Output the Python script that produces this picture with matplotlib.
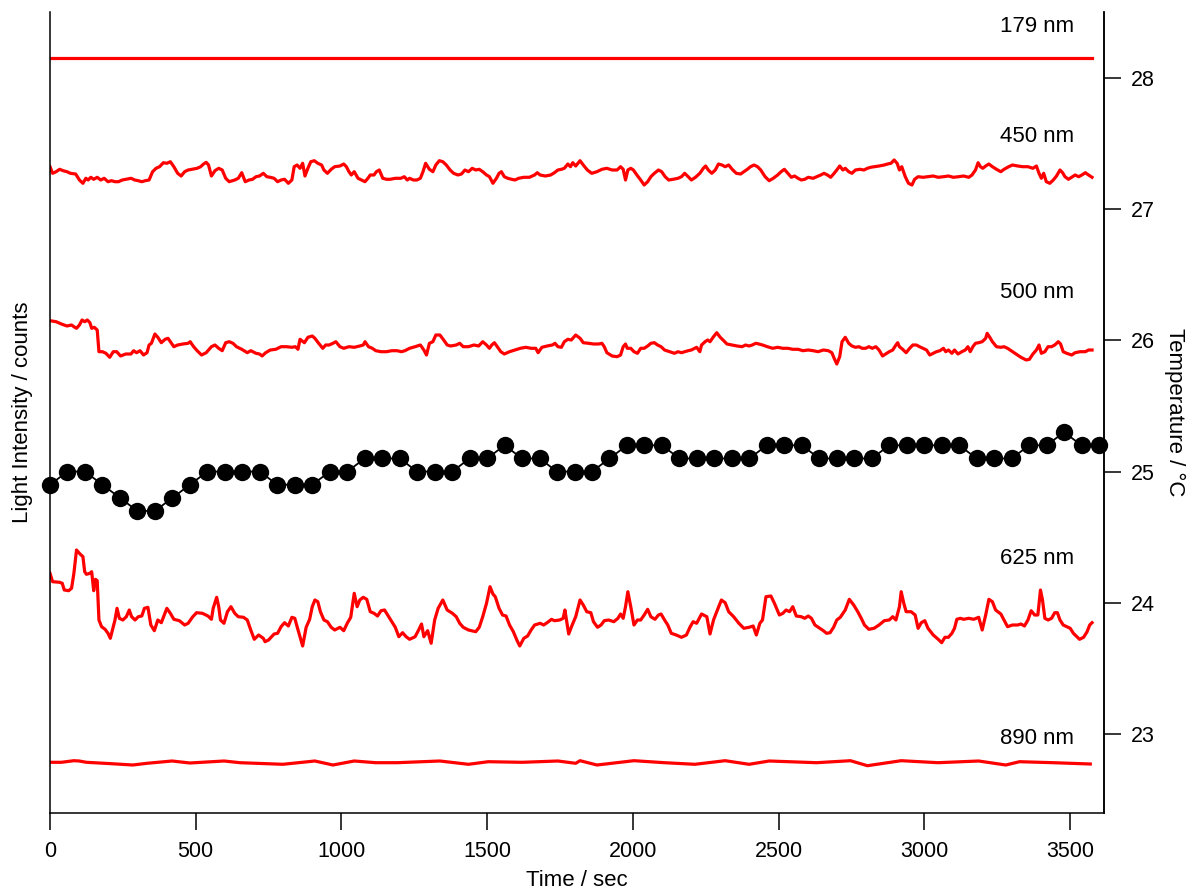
import numpy as np
import matplotlib
matplotlib.use("Agg")
import matplotlib.pyplot as plt

plt.rcParams["font.family"] = ["Liberation Sans", "DejaVu Sans"]

# ---- temperature, sampled once a minute ----
temp_time = np.arange(0, 3601, 60)
temperature = [24.9, 25.0, 25.0, 24.9, 24.8, 24.7, 24.7, 24.8, 24.9, 25.0,
               25.0, 25.0, 25.0, 24.9, 24.9, 24.9, 25.0, 25.0, 25.1, 25.1,
               25.1, 25.0, 25.0, 25.0, 25.1, 25.1, 25.2, 25.1, 25.1, 25.0,
               25.0, 25.0, 25.1, 25.2, 25.2, 25.2, 25.1, 25.1, 25.1, 25.1,
               25.1, 25.2, 25.2, 25.2, 25.1, 25.1, 25.1, 25.1, 25.2, 25.2,
               25.2, 25.2, 25.2, 25.1, 25.1, 25.1, 25.2, 25.2, 25.3, 25.2,
               25.2]

# ---- light intensity traces (counts, stacked with offsets) ----
t179 = [0, 3576]
c179 = [755, 755]

t450 = [0, 9, 21, 33, 45, 58, 70, 88, 101, 113, 123, 131, 140, 150, 162, 174,
        186, 199, 211, 223, 235, 248, 260, 278, 291, 303, 315, 327, 340, 352,
        364, 376, 389, 401, 413, 425, 438, 450, 462, 474, 487, 505, 517, 527,
        536, 544, 554, 566, 579, 591, 603, 615, 634, 646, 658, 670, 683, 695,
        707, 719, 732, 744, 756, 769, 781, 793, 805, 818, 830, 838, 848, 858,
        867, 875, 885, 895, 907, 919, 932, 940, 952, 965, 977, 995, 1008, 1017,
        1026, 1034, 1044, 1057, 1069, 1081, 1091, 1099, 1112, 1120, 1130, 1142,
        1155, 1167, 1185, 1204, 1216, 1226, 1234, 1247, 1259, 1271, 1280, 1289,
        1302, 1314, 1324, 1336, 1348, 1360, 1373, 1385, 1400, 1412, 1424, 1436,
        1449, 1461, 1473, 1485, 1498, 1508, 1520, 1532, 1541, 1549, 1559, 1571,
        1584, 1596, 1608, 1626, 1645, 1663, 1672, 1682, 1700, 1718, 1731, 1743,
        1755, 1765, 1777, 1786, 1794, 1804,
        1819, 1830, 1844, 1859, 1877, 1894, 1911, 1929, 1946, 1958, 1967, 1975,
        1983, 1993, 2002, 2014, 2027, 2039, 2051, 2062, 2074, 2088, 2099, 2111,
        2123, 2138, 2155, 2167, 2178, 2190, 2201, 2215, 2230, 2242, 2250, 2259,
        2271, 2283, 2294, 2306, 2317, 2329, 2341, 2355, 2370, 2381, 2393, 2404,
        2416, 2428, 2439, 2454, 2468, 2482, 2497, 2509, 2520, 2532, 2544, 2555,
        2567, 2578, 2590, 2602, 2619, 2631, 2645, 2656, 2668, 2679, 2691, 2700,
        2710, 2721, 2729, 2741, 2752, 2764, 2779, 2793, 2805, 2816, 2830, 2845,
        2863, 2874, 2886, 2897, 2907, 2915, 2923, 2935, 2946, 2958, 2967, 2979,
        2996, 3013, 3031, 3048, 3066, 3083, 3100, 3118, 3135, 3153, 3164, 3176,
        3185, 3193, 3201, 3211, 3222, 3234, 3248, 3263, 3274, 3290, 3303, 3321,
        3338, 3356, 3373, 3385, 3394, 3402, 3410, 3419, 3431, 3443, 3454, 3466,
        3475, 3483, 3495, 3506, 3518, 3530, 3541, 3553, 3564, 3576]
c450 = [646.3, 639.7, 641.3, 643.7, 642.3, 641.3, 639.7, 639.0, 633.0, 629.7,
        634.7, 633.0, 635.7, 633.7, 635.7, 633.0, 634.7, 631.3, 632.3, 631.3,
        631.3, 633.0, 633.7, 634.7, 633.0, 632.3, 631.3, 632.3, 633.0, 641.3,
        644.7, 646.3, 650.3, 649.7, 651.3, 646.3, 639.7, 637.0, 641.3, 643.0,
        643.7, 644.7, 646.3, 649.0, 650.7, 648.0, 637.0, 642.3, 644.7, 643.0,
        634.7, 631.3, 633.0, 634.7, 640.3, 631.3, 633.0, 633.7, 636.3, 637.0,
        639.7, 636.3, 635.7, 634.7, 631.3, 633.0, 633.7, 629.7, 633.0, 646.3,
        648.0, 644.7, 649.7, 637.0, 644.7, 651.3, 652.3, 649.7, 648.0, 643.0,
        639.7, 643.7, 646.3, 647.0, 649.0, 646.3, 641.3, 638.0, 641.3, 634.7,
        633.0, 631.3, 634.7, 638.0, 638.0, 641.3, 643.0, 634.7, 633.7, 633.7,
        634.7, 634.7, 636.3, 633.0, 634.7, 633.0, 633.0, 634.7, 641.3, 649.7,
        643.7, 641.3, 648.0, 652.3, 651.3, 648.0, 643.0, 639.7, 638.0, 639.0,
        643.0, 641.3, 644.7, 643.0, 643.7, 641.3, 638.0, 636.3, 629.7, 634.7,
        639.7, 641.3, 636.3, 634.7, 633.7, 633.0, 634.7, 635.7, 635.7, 638.0,
        640.3, 638.0, 637.0, 638.0, 640.3, 643.0, 643.7, 644.7, 649.0, 646.3,
        650.3, 647.0,
        652.3, 648.0, 643.0, 639.7, 641.3, 643.7, 644.7, 643.0, 643.0, 646.3,
        643.7, 633.0, 643.0, 644.7, 643.0, 638.0, 633.0, 628.0, 631.3, 636.3,
        639.7, 643.0, 641.3, 636.3, 633.0, 633.7, 634.7, 636.3, 639.7, 636.3,
        633.0, 635.7, 639.7, 644.7, 647.0, 643.0, 639.7, 643.0, 649.0, 648.0,
        646.3, 648.0, 643.7, 639.7, 639.0, 641.3, 643.7, 646.3, 648.0, 646.3,
        643.0, 636.3, 632.3, 634.7, 638.0, 641.3, 643.7, 639.7, 635.7, 637.0,
        634.7, 633.0, 633.7, 635.7, 634.7, 636.3, 638.0, 639.7, 638.0, 635.7,
        639.7, 643.0, 647.0, 643.0, 644.7, 641.3, 639.7, 643.0, 643.7, 643.0,
        644.7, 645.7, 646.3, 647.0, 648.0, 649.0, 649.7, 653.0, 649.7, 643.0,
        646.3, 636.3, 629.7, 628.0, 633.7, 636.3, 635.7, 636.3, 637.0, 635.7,
        636.3, 637.0, 635.7, 636.3, 637.0, 635.7, 638.0, 643.0, 650.3, 646.3,
        644.7, 647.0, 649.0, 646.3, 643.7, 641.3, 643.7, 646.3, 648.0, 647.0,
        646.3, 646.3, 644.7, 647.0, 639.7, 634.7, 639.7, 631.3, 629.7, 633.0,
        637.0, 643.0, 640.3, 636.3, 633.7, 635.7, 638.0, 636.3, 638.0, 640.3,
        638.0, 635.7]

t500 = [0, 21, 39, 58, 74, 82, 91, 101, 110, 119, 128, 137, 143, 152, 162,
        168, 180, 192, 205, 217, 229, 242, 260, 278, 287, 297, 309, 321, 333,
        340, 348, 360, 370, 382, 395, 405, 413, 425, 438, 456, 474, 481, 493,
        505, 520, 536, 554, 566, 579, 591, 603, 615, 628, 640, 658, 677, 689,
        707, 719, 728, 740, 756, 775, 793, 811, 830, 842, 851, 858, 873, 885,
        900, 909, 922, 936, 946, 958, 971, 981, 995, 1008, 1026, 1044, 1063,
        1075, 1081, 1093, 1106, 1118, 1136, 1155, 1173, 1191, 1206, 1218, 1234,
        1253, 1271, 1283, 1292, 1302, 1314, 1324, 1338, 1351, 1363, 1375, 1394,
        1406, 1418, 1436, 1455, 1471, 1485, 1498, 1508, 1516, 1525, 1535, 1547,
        1559, 1577, 1596, 1614, 1633, 1651, 1667, 1675, 1688, 1706, 1724, 1733,
        1743, 1755, 1765, 1777, 1789, 1804,
        1819, 1830, 1848, 1865, 1882, 1894, 1902, 1911, 1929, 1946, 1958, 1967,
        1975, 1981, 1993, 2004, 2016, 2027, 2039, 2051, 2062, 2074, 2085, 2097,
        2109, 2126, 2143, 2155, 2167, 2178, 2190, 2201, 2219, 2230, 2236, 2248,
        2257, 2265, 2277, 2288, 2300, 2312, 2323, 2341, 2358, 2375, 2387, 2399,
        2410, 2422, 2433, 2445, 2462, 2480, 2497, 2515, 2532, 2549, 2567, 2584,
        2602, 2619, 2636, 2654, 2671, 2683, 2691, 2700, 2710, 2718, 2729, 2741,
        2752, 2764, 2776, 2787, 2799, 2810, 2822, 2834, 2845, 2857, 2868, 2880,
        2892, 2903, 2909, 2915, 2926, 2938, 2950, 2961, 2973, 2984, 2996, 3008,
        3019, 3031, 3042, 3054, 3066, 3074, 3083, 3095, 3104, 3116, 3129, 3141,
        3150, 3158, 3167, 3176, 3187, 3199, 3211, 3216, 3225, 3234, 3248, 3263,
        3274, 3286, 3298, 3315, 3332, 3350, 3361, 3373, 3385, 3394, 3402, 3414,
        3425, 3437, 3448, 3460, 3468, 3477, 3489, 3506, 3518, 3535, 3553, 3564,
        3576]
c500 = [492.3, 491.3, 489.0, 487.0, 488.0, 486.3, 484.7, 488.0, 493.0, 491.3,
        493.0, 490.3, 484.7, 485.7, 483.0, 461.3, 461.3, 459.7, 455.7, 461.3,
        461.3, 457.0, 459.0, 459.0, 462.3, 460.3, 462.3, 458.0, 460.3, 468.0,
        469.7, 479.0, 475.7, 470.3, 473.7, 474.7, 471.3, 466.3, 468.0, 469.0,
        469.7, 471.3, 466.3, 462.3, 458.0, 460.3, 466.3, 468.0, 464.7, 462.3,
        470.3, 471.3, 469.7, 466.3, 463.7, 460.3, 462.3, 459.7, 459.0, 457.0,
        460.3, 463.0, 463.7, 466.3, 466.3, 465.7, 466.3, 463.7, 473.7, 470.3,
        475.7, 477.0, 474.7, 469.7, 464.7, 468.0, 468.0, 469.7, 471.3, 466.3,
        464.7, 466.3, 465.7, 467.0, 468.0, 471.3, 466.3, 464.7, 462.3, 461.3,
        461.3, 462.3, 462.3, 461.3, 462.3, 464.7, 466.3, 468.0, 463.0, 458.0,
        469.7, 471.3, 478.0, 478.0, 473.0, 468.0, 467.0, 468.0, 469.7, 466.3,
        466.3, 468.0, 467.0, 471.3, 468.0, 464.7, 468.0, 470.3, 466.3, 461.3,
        459.0, 461.3, 463.0, 464.7, 465.7, 464.7, 464.7, 460.3, 465.7, 467.0,
        468.0, 469.7, 466.3, 465.7, 471.3, 473.7, 473.0, 478.0,
        474.7, 470.3, 469.7, 469.0, 469.0, 469.7, 466.3, 460.3, 457.0, 456.3,
        458.0, 466.3, 469.0, 464.7, 464.7, 461.3, 459.7, 464.7, 464.7, 467.0,
        469.7, 470.3, 468.0, 466.3, 463.0, 461.3, 459.7, 461.3, 460.3, 461.3,
        462.3, 463.0, 465.7, 461.3, 468.0, 471.3, 473.0, 471.3, 476.3, 480.3,
        475.7, 472.3, 469.0, 468.0, 467.0, 466.3, 468.0, 467.0, 468.0, 469.7,
        469.0, 468.0, 466.3, 464.7, 465.7, 464.7, 464.7, 463.7, 463.7, 462.3,
        463.0, 462.3, 461.3, 463.0, 462.3, 460.3, 454.7, 449.0, 456.3, 471.3,
        475.7, 469.7, 467.0, 465.7, 466.3, 464.7, 464.7, 466.3, 464.7, 466.3,
        463.0, 457.0, 459.0, 461.3, 463.0, 468.0, 470.3, 466.3, 463.7, 460.3,
        464.7, 468.0, 468.0, 466.3, 464.7, 463.0, 458.0, 459.7, 461.3, 462.3,
        464.7, 461.3, 463.0, 459.7, 463.0, 459.0, 461.3, 463.0, 466.3, 461.3,
        466.3, 469.7, 470.3, 471.3, 474.7, 479.7, 475.7, 471.3, 466.3, 465.7,
        466.3, 464.7, 462.3, 459.0, 455.7, 453.0, 453.7, 459.0, 463.0, 468.0,
        459.7, 461.3, 466.3, 466.3, 468.0, 471.3, 469.0, 461.3, 459.7, 458.0,
        460.3, 461.3, 461.3, 463.0, 463.0]

t625 = [0, 9, 33, 42, 49, 64, 74, 82, 91, 103, 113, 119, 125, 137, 143, 150,
        156, 162, 168, 177, 189, 199, 207, 217, 223, 230, 238, 250, 262, 272,
        280, 292, 303, 315, 324, 336, 346, 358, 370, 382, 401, 413, 425, 444,
        462, 474, 490, 503, 523, 542, 554, 560, 572, 579, 585, 597, 609, 621,
        634, 646, 664, 677, 689, 701, 716, 732, 738, 750, 769, 781, 793, 805,
        818, 830, 840, 848, 858, 867, 879, 891, 900, 909, 919, 928, 940, 952,
        965, 977, 995, 1008, 1020, 1032, 1044, 1054, 1063, 1075, 1087, 1099,
        1112, 1124, 1136, 1148, 1161, 1173, 1185, 1197, 1210, 1222, 1234, 1253,
        1265, 1275, 1283, 1296, 1308, 1320, 1332, 1348, 1363, 1381, 1394, 1406,
        1418, 1436, 1461, 1473, 1485, 1498, 1510, 1520, 1528, 1541, 1553, 1565,
        1577, 1590, 1602, 1612, 1626, 1639, 1651, 1663, 1682, 1694, 1706, 1721,
        1731, 1749, 1761, 1767, 1780, 1792, 1804,
        1819, 1830, 1842, 1856, 1865, 1879, 1891, 1902, 1917, 1935, 1949, 1958,
        1967, 1975, 1983, 1993, 2004, 2016, 2027, 2039, 2051, 2062, 2076, 2088,
        2097, 2109, 2120, 2132, 2149, 2167, 2184, 2196, 2207, 2219, 2236, 2254,
        2265, 2277, 2288, 2304, 2317, 2329, 2346, 2364, 2381, 2399, 2413, 2424,
        2436, 2445, 2457, 2474, 2486, 2503, 2515, 2526, 2538, 2549, 2561, 2578,
        2590, 2602, 2613, 2625, 2642, 2654, 2665, 2677, 2689, 2700, 2712, 2729,
        2743, 2758, 2772, 2784, 2795, 2810, 2828, 2845, 2863, 2880, 2892, 2903,
        2915, 2921, 2930, 2938, 2955, 2969, 2979, 2990, 3002, 3013, 3031, 3048,
        3060, 3071, 3083, 3095, 3104, 3112, 3124, 3135, 3153, 3170, 3187, 3199,
        3211, 3222, 3234, 3245, 3263, 3274, 3286, 3303, 3321, 3332, 3344, 3356,
        3367, 3379, 3390, 3399, 3406, 3414, 3425, 3437, 3448, 3457, 3466, 3477,
        3489, 3501, 3512, 3524, 3533, 3547, 3559, 3568, 3576]
c625 = [239.7, 231.3, 230.7, 229.7, 223.0, 222.3, 224.7, 239.7, 263.0, 259.0,
        256.3, 241.3, 238.7, 239.7, 241.3, 222.3, 233.7, 232.3, 193.0, 186.3,
        183.7, 179.7, 174.7, 186.3, 193.0, 204.7, 194.7, 193.0, 196.3, 203.0,
        196.3, 193.0, 196.3, 197.0, 204.7, 205.7, 188.0, 182.3, 193.0, 190.3,
        204.7, 199.7, 193.7, 192.3, 188.0, 189.7, 196.3, 200.3, 199.7, 197.0,
        193.7, 204.7, 215.7, 206.3, 193.0, 189.7, 201.3, 206.3, 199.7, 196.3,
        195.7, 193.0, 183.0, 173.7, 178.0, 174.7, 171.3, 173.0, 179.0, 179.7,
        186.3, 190.3, 187.0, 195.7, 194.7, 186.3, 176.3, 167.0, 185.7, 193.7,
        206.3, 213.0, 211.3, 201.3, 193.0, 191.3, 185.7, 183.0, 185.7, 182.3,
        189.7, 195.7, 219.7, 206.3, 213.0, 215.7, 213.7, 201.3, 199.7, 197.0,
        202.3, 203.0, 197.0, 191.3, 185.7, 176.3, 180.3, 176.3, 173.7, 176.3,
        183.0, 189.0, 176.3, 182.3, 169.7, 193.0, 204.7, 213.0, 203.0, 199.7,
        196.3, 189.7, 185.7, 183.0, 181.3, 185.7, 196.3, 209.7, 226.3, 219.0,
        216.3, 204.7, 198.0, 197.0, 188.0, 181.3, 173.0, 167.0, 174.7, 177.0,
        183.0, 188.0, 189.7, 188.0, 190.3, 193.7, 192.3, 193.0, 194.7, 203.0,
        179.0, 188.0, 196.3,
        213.0, 208.0, 201.3, 200.3, 191.3, 185.7, 188.0, 192.3, 193.0, 191.3,
        194.7, 199.0, 194.7, 206.3, 221.3, 206.3, 188.0, 193.0, 193.0, 198.0,
        203.7, 196.3, 193.7, 198.0, 199.0, 193.0, 188.0, 179.7, 178.0, 175.7,
        178.0, 185.7, 191.3, 189.7, 199.0, 196.3, 179.0, 193.0, 201.3, 213.0,
        210.3, 201.3, 196.3, 189.7, 184.7, 185.7, 187.0, 178.0, 189.7, 193.0,
        216.3, 217.0, 209.7, 198.0, 199.7, 203.0, 201.3, 206.3, 197.0, 196.3,
        194.7, 197.0, 194.7, 188.0, 184.7, 182.3, 179.7, 180.3, 185.7, 193.0,
        195.7, 203.0, 213.7, 208.0, 201.3, 194.7, 188.0, 183.7, 184.7, 188.0,
        192.3, 193.0, 196.3, 193.0, 206.3, 221.3, 209.7, 201.3, 201.3, 198.0,
        184.7, 190.3, 192.3, 184.7, 178.0, 173.7, 170.3, 175.7, 175.7, 179.7,
        184.7, 193.7, 194.7, 193.7, 194.7, 193.7, 195.7, 183.0, 198.0, 213.7,
        211.3, 203.0, 199.0, 193.0, 186.3, 188.0, 188.0, 189.0, 187.0, 193.0,
        202.3, 198.0, 198.0, 223.0, 213.0, 194.7, 193.0, 194.7, 200.3, 200.3,
        193.0, 188.0, 186.3, 184.7, 179.7, 176.3, 173.7, 175.7, 181.3, 188.0,
        190.3]

t890 = [0, 39, 82, 100, 125, 211, 284, 333, 419, 480, 597, 652, 799, 909, 971,
        1044, 1118, 1191, 1338, 1436, 1504, 1620, 1743, 1804, 1819, 1877, 2004,
        2109, 2213, 2317, 2399, 2468, 2631, 2747, 2805, 2921, 3048, 3187, 3280,
        3327, 3443, 3570]
c890 = [50.7, 50.7, 52.3, 52.0, 50.7, 49.3, 48.0, 49.7, 52.0, 50.0, 52.0,
        50.3, 48.7, 52.0, 48.0, 52.0, 50.3, 50.3, 52.0, 48.7, 51.3, 50.7, 52.0,
        49.7, 52.3, 48.0, 52.3, 50.3, 48.7, 52.3, 48.7, 52.0, 50.3, 52.3, 47.3,
        52.3, 50.3, 52.0, 48.0, 51.3, 50.3, 49.0]

trace_labels = ["179 nm", "450 nm", "500 nm", "625 nm", "890 nm"]
label_levels = [786, 676, 521, 255, 75]

# ---- figure ----
fig = plt.figure(figsize=(12, 8.9), dpi=100)
ax = fig.add_axes([50 / 1200, 77 / 890, 1054 / 1200, 801 / 890])
ax2 = ax.twinx()

red = "#ff0000"
for t, c in [(t179, c179), (t450, c450), (t500, c500), (t625, c625), (t890, c890)]:
    ax.plot(t, c, color=red, lw=2.3, solid_joinstyle="round")

for lab, lvl in zip(trace_labels, label_levels):
    ax.text(3514, lvl, lab, ha="right", va="center", fontsize=16)

ax2.plot(temp_time, temperature, color="black", lw=1.3, marker="o",
         markersize=12.5, markeredgewidth=0, clip_on=False, zorder=5)

ax.set_xlim(0, 3617)
ax.set_ylim(0, 801)
ax2.set_ylim(22.4, 28.5)

ax.set_xticks(np.arange(0, 3501, 500))
ax.tick_params(axis="x", direction="out", length=12, width=1.1, pad=8,
               labelsize=15.5)
ax.set_yticks([])
ax2.set_yticks([23, 24, 25, 26, 27, 28])
ax2.tick_params(axis="y", direction="out", length=12, width=1.1, pad=7,
                labelsize=15.5)

for a in (ax, ax2):
    a.spines["top"].set_visible(False)
    for s in ("left", "right", "bottom"):
        a.spines[s].set_linewidth(1.1)
ax2.spines["left"].set_visible(False)
ax2.spines["bottom"].set_visible(False)

ax.set_xlabel("Time / sec", fontsize=16, labelpad=6)
ax.set_ylabel("Light Intensity / counts", fontsize=16, labelpad=12)
ax2.set_ylabel("Temperature / \u00b0C", fontsize=16, rotation=-90,
               labelpad=22)

fig.savefig("out.png", dpi=100)
